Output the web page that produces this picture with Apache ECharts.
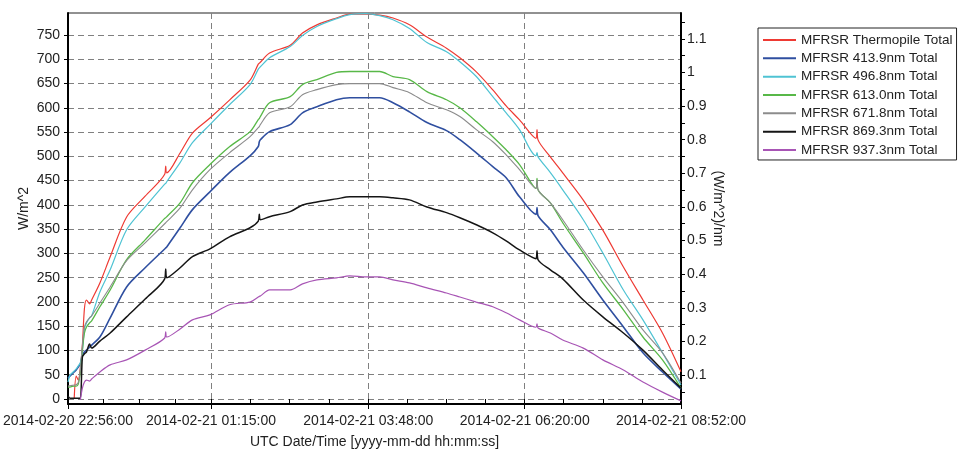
<!DOCTYPE html>
<html><head><meta charset="utf-8">
<script src="https://cdn.jsdelivr.net/npm/echarts@6.0.0/dist/echarts.min.js"></script>
<style>html,body{margin:0;padding:0;background:#fff}#c{width:977px;height:452px}</style>
</head><body><div id="c"></div>
<script>
// Sample times (UTC, HH:MM; hours >= 12 are on 2014-02-20, others on 2014-02-21)
const times = ['22:56','22:58','23:00','23:02','23:04','23:06','23:08','23:10','23:12','23:14','23:17','23:19','23:27','23:37','23:53','00:11','00:30','00:31','00:32','00:45','00:57','01:14','01:33','01:53','02:01','02:02','02:03','02:12','02:32','02:44','02:58','03:17','03:30','03:46','03:59','04:12','04:28','04:45','05:04','05:17','05:33','05:49','06:02','06:15','06:31','06:32','06:33','06:45','06:57','07:17','07:36','07:56','08:15','08:34','08:52'];

// W/m^2 (left axis)
const thermopile = [null,null,null,0,47,39,64,111,187,204,196,204,239,293,375,418,463,480,466,507,548,579,616,657,690,692,694,713,729,754,771,785,793,793,791,785,771,746,723,703,674,637,604,575,537,555,534,499,466,410,348,272,204,136,56];

// (W/m^2)/nm (right axis)
const nm4139 = [0.091,0.097,0.103,0.109,0.115,0.124,0.133,0.157,0.169,0.174,0.183,0.189,0.213,0.270,0.362,0.419,0.475,0.478,0.481,0.538,0.592,0.645,0.702,0.752,0.780,0.794,0.800,0.824,0.845,0.880,0.898,0.919,0.925,0.925,0.925,0.910,0.883,0.851,0.827,0.800,0.761,0.720,0.687,0.630,0.578,0.598,0.574,0.532,0.481,0.404,0.323,0.243,0.166,0.109,0.058];
const nm4968 = [0.079,0.100,0.106,0.112,0.118,0.127,0.136,0.174,0.237,0.255,0.270,0.276,0.347,0.413,0.532,0.600,0.668,0.670,0.675,0.732,0.791,0.845,0.904,0.964,1.010,1.014,1.017,1.044,1.077,1.110,1.137,1.160,1.172,1.175,1.169,1.157,1.131,1.089,1.062,1.032,0.988,0.928,0.880,0.830,0.752,0.762,0.749,0.702,0.651,0.562,0.463,0.353,0.264,0.166,0.070];
const nm6130 = [0.064,0.064,0.066,0.067,0.067,0.073,0.109,0.174,0.225,0.243,0.255,0.261,0.303,0.353,0.443,0.502,0.566,0.568,0.571,0.612,0.672,0.726,0.779,0.824,0.860,0.863,0.869,0.910,0.928,0.964,0.979,1.000,1.003,1.003,1.003,0.988,0.979,0.943,0.919,0.895,0.854,0.809,0.770,0.726,0.655,0.685,0.651,0.612,0.553,0.463,0.374,0.294,0.213,0.145,0.061];
const nm6718 = [0.067,0.068,0.069,0.070,0.071,0.078,0.115,0.189,0.243,0.258,0.270,0.276,0.314,0.362,0.440,0.493,0.550,0.553,0.556,0.597,0.651,0.711,0.761,0.809,0.836,0.839,0.845,0.880,0.898,0.934,0.949,0.964,0.967,0.967,0.967,0.955,0.940,0.910,0.889,0.869,0.830,0.794,0.755,0.711,0.655,0.680,0.651,0.612,0.562,0.472,0.392,0.314,0.234,0.166,0.076];
const nm8693 = [0.037,0.031,0.031,0.031,0.031,0.031,0.031,0.154,0.163,0.169,0.192,0.180,0.201,0.225,0.273,0.326,0.386,0.415,0.389,0.419,0.452,0.475,0.511,0.538,0.558,0.578,0.562,0.571,0.586,0.606,0.615,0.624,0.630,0.630,0.630,0.627,0.621,0.600,0.583,0.568,0.547,0.523,0.499,0.472,0.446,0.470,0.443,0.413,0.386,0.323,0.273,0.225,0.174,0.115,0.061];
const nm9373 = [null,null,null,null,null,null,0.026,0.061,0.079,0.085,0.082,0.088,0.109,0.130,0.145,0.174,0.210,0.228,0.213,0.237,0.264,0.279,0.309,0.317,0.332,0.334,0.335,0.353,0.353,0.371,0.383,0.389,0.395,0.392,0.392,0.383,0.374,0.359,0.344,0.332,0.317,0.303,0.285,0.264,0.242,0.252,0.240,0.225,0.204,0.180,0.145,0.115,0.079,0.049,0.023];

const seriesNames = ['MFRSR Thermopile Total','MFRSR 413.9nm Total','MFRSR 496.8nm Total','MFRSR 613.0nm Total','MFRSR 671.8nm Total','MFRSR 869.3nm Total','MFRSR 937.3nm Total'];

// Tick labels
const xTickLabels = ['2014-02-20 22:56:00','2014-02-21 01:15:00','2014-02-21 03:48:00','2014-02-21 06:20:00','2014-02-21 08:52:00'];
const leftTickLabels = [0,50,100,150,200,250,300,350,400,450,500,550,600,650,700,750];
const rightTickLabels = [0.1,0.2,0.3,0.4,0.5,0.6,0.7,0.8,0.9,1,1.1];
const rightMinorTicks = [0.05,0.1,0.15,0.2,0.25,0.3,0.35,0.4,0.45,0.5,0.55,0.6,0.65,0.7,0.75,0.8,0.85,0.9,0.95,1,1.05,1.1,1.15];

const FONT = 'Liberation Sans, Arial, sans-serif';
const TXT = '#222';

function toTs(hm){const p=hm.split(':').map(Number);const day=p[0]>=12?20:21;return Date.UTC(2014,1,day,p[0],p[1]);}
function parseFull(s){const a=s.split(' ');const d=a[0].split('-').map(Number);const t=a[1].split(':').map(Number);return Date.UTC(d[0],d[1]-1,d[2],t[0],t[1],t[2]);}
function pad(n){return String(n).padStart(2,'0');}
function fmt(v){const d=new Date(v);return d.getUTCFullYear()+'-'+pad(d.getUTCMonth()+1)+'-'+pad(d.getUTCDate())+' '+pad(d.getUTCHours())+':'+pad(d.getUTCMinutes())+':'+pad(d.getUTCSeconds());}

const labelTs = xTickLabels.map(parseFull);
const minorTs = [];
for (let i=0;i<labelTs.length-1;i++){for(let k=0;k<4;k++){minorTs.push(labelTs[i]+(labelTs[i+1]-labelTs[i])*k/4);}}
minorTs.push(labelTs[labelTs.length-1]);

const ts = times.map(toTs);
function mk(arr){return ts.map((t,i)=>[t, arr[i]]);}

const cols = ['#ee3a33','#2f4fa0','#4fc3d3','#58b848','#8c8c8c','#151515','#a855b5'];
const widths = [1.2,1.6,1.2,1.3,1.1,1.5,1.2];
const datas = [thermopile,nm4139,nm4968,nm6130,nm6718,nm8693,nm9373];

const series = datas.map((d,i)=>({
  name: seriesNames[i], type:'line', xAxisIndex:0, yAxisIndex: i===0?0:1,
  data: mk(d), symbol:'none', showSymbol:false, connectNulls:false, smooth:0.3,
  lineStyle:{color:cols[i], width:widths[i]}, itemStyle:{color:cols[i]},
  emphasis:{disabled:true}, animation:false, z: 2+i
}));

const dash = {type:[6,4], color:'#808080', width:1};

const chart = echarts.init(document.getElementById('c'), null, {renderer:'canvas'});
chart.setOption({
  animation:false,
  backgroundColor:'#fff',
  textStyle:{fontFamily:FONT},
  grid:{left:68, right:296, top:13, bottom:48, show:true, borderColor:'#222', borderWidth:1, containLabel:false, outerBoundsMode:'none'},
  legend:{
    orient:'vertical', left:758, top:28, icon:'rect', itemWidth:33, itemHeight:2, itemGap:4.33,
    padding:[5,4,3,5], borderColor:'#222', borderWidth:1, backgroundColor:'#fff',
    textStyle:{fontSize:13.5, fontFamily:FONT, color:TXT, lineHeight:14},
    data: seriesNames
  },
  xAxis:[{
    type:'value', min:labelTs[0], max:labelTs[labelTs.length-1], position:'bottom',
    name:'UTC Date/Time [yyyy-mm-dd hh:mm:ss]', nameLocation:'middle', nameGap:31, nameMoveOverlap:false,
    nameTextStyle:{fontSize:14, color:TXT, fontFamily:FONT},
    axisLine:{show:true, onZero:false, lineStyle:{color:'#000', width:2}},
    axisTick:{show:true, customValues:labelTs, length:5, lineStyle:{color:'#000', width:1}},
    axisLabel:{customValues:labelTs, formatter:fmt, fontSize:14, color:TXT, margin:10, fontFamily:FONT, showMinLabel:true, showMaxLabel:true, hideOverlap:false},
    splitLine:{show:true, lineStyle:dash}
  },{
    type:'value', min:labelTs[0], max:labelTs[labelTs.length-1], position:'bottom',
    axisLine:{show:false},
    axisTick:{show:true, customValues:minorTs, length:5, lineStyle:{color:'#000', width:1}},
    axisLabel:{show:false}, splitLine:{show:false}
  }],
  yAxis:[{
    type:'value', min:-10.3, max:795.4, position:'left',
    name:'W/m^2', nameLocation:'middle', nameGap:37, nameRotate:90, nameMoveOverlap:false,
    nameTextStyle:{fontSize:14, color:TXT, fontFamily:FONT},
    axisLine:{show:true, onZero:false, lineStyle:{color:'#000', width:2}},
    axisTick:{show:true, customValues:leftTickLabels, length:4, lineStyle:{color:'#000'}},
    axisLabel:{customValues:leftTickLabels, fontSize:14, color:TXT, margin:8, fontFamily:FONT},
    splitLine:{show:true, lineStyle:dash}
  },{
    type:'value', min:0.0137, max:1.177, position:'right',
    name:'(W/m^2)/nm', nameLocation:'middle', nameGap:30, nameRotate:-90, nameMoveOverlap:false,
    nameTextStyle:{fontSize:14, color:TXT, fontFamily:FONT},
    axisLine:{show:true, onZero:false, lineStyle:{color:'#000', width:2}},
    axisTick:{show:true, customValues:rightMinorTicks, length:4, lineStyle:{color:'#000'}},
    axisLabel:{customValues:rightTickLabels, fontSize:14, color:TXT, margin:6, fontFamily:FONT, formatter:v=>String(+(+v).toFixed(2))},
    splitLine:{show:false}
  }],
  series: series
});
</script></body></html>
